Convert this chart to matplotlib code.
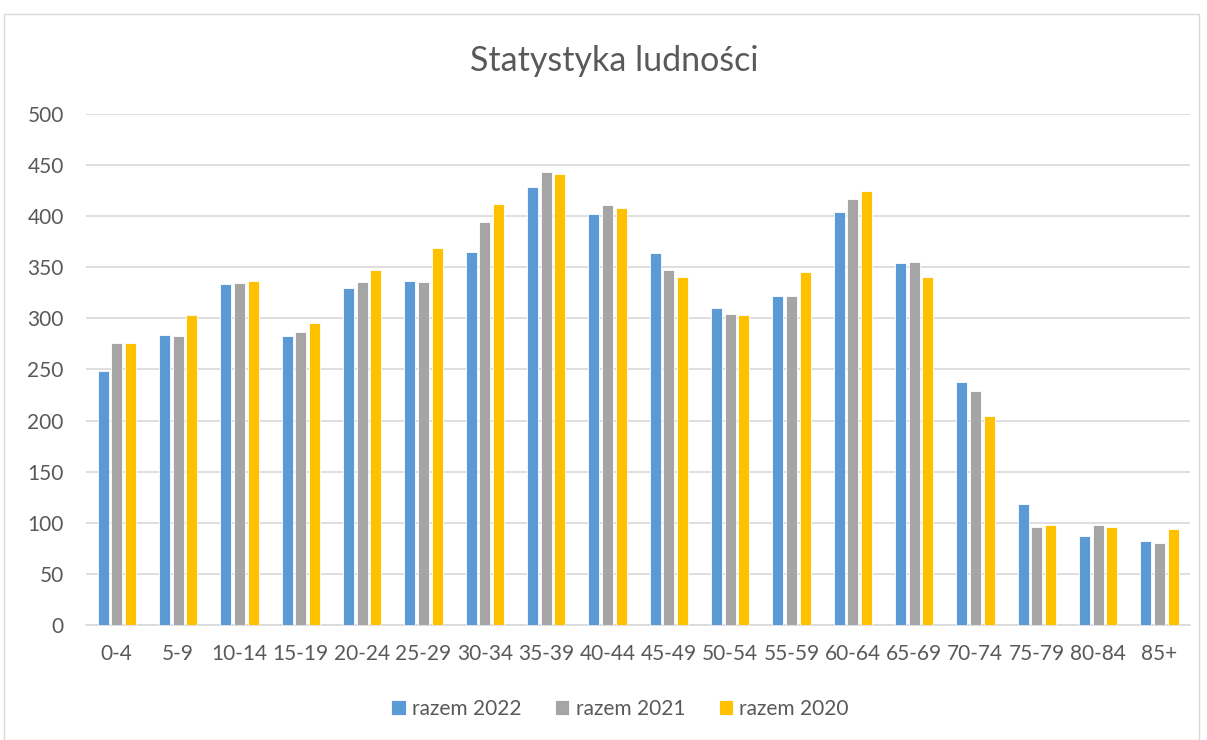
import matplotlib

matplotlib.use("Agg")
import matplotlib.pyplot as plt
import numpy as np
from matplotlib.patches import Rectangle

categories = ["0-4", "5-9", "10-14", "15-19", "20-24", "25-29", "30-34", "35-39",
              "40-44", "45-49", "50-54", "55-59", "60-64", "65-69", "70-74",
              "75-79", "80-84", "85+"]
razem_2022 = [249, 284, 334, 283, 330, 337, 365, 429, 402, 364, 310, 322, 404, 354, 238, 118, 87, 82]
razem_2021 = [276, 283, 335, 287, 336, 336, 394, 443, 411, 347, 304, 322, 417, 355, 229, 96, 98, 80]
razem_2020 = [276, 303, 337, 295, 347, 369, 412, 441, 408, 340, 303, 345, 425, 340, 204, 98, 96, 94]

series = [
    ("razem 2022", razem_2022, "#5b9bd5"),
    ("razem 2021", razem_2021, "#a5a5a5"),
    ("razem 2020", razem_2020, "#ffc000"),
]

plt.rcParams["font.family"] = ["Lato", "DejaVu Sans"]
TEXT = "#595959"

fig = plt.figure(figsize=(12.07, 7.4), dpi=100)
fig.patch.set_facecolor("white")
fig.patches.append(Rectangle((4 / 1207, 0.0), 1195 / 1207, 726 / 740,
                             transform=fig.transFigure, fill=False,
                             edgecolor="#d9d9d9", linewidth=1))

ax = fig.add_axes([0.0713, 0.1554, 0.9147, 0.6906])
x = np.arange(len(categories))
step = 0.223
width = 0.18
for i, (name, vals, color) in enumerate(series):
    ax.bar(x + (i - 1) * step, vals, width=width, color=color, label=name,
           edgecolor="white", linewidth=0.6, zorder=3)

ax.set_xlim(-0.5, len(categories) - 0.5)
ax.set_ylim(0, 500)
ax.set_yticks(range(0, 501, 50))
ax.set_xticks(x)
ax.set_xticklabels(categories)
ax.tick_params(axis="both", length=0, labelsize=15, labelcolor=TEXT)
ax.tick_params(axis="x", pad=14)
ax.tick_params(axis="y", pad=16)
ax.grid(axis="y", color="#d9d9d9", linewidth=1.2, zorder=0)
for side in ["top", "right", "left"]:
    ax.spines[side].set_visible(False)
ax.spines["bottom"].set_color("#d9d9d9")
ax.spines["bottom"].set_linewidth(1.2)

fig.text(0.509, 0.918, "Statystyka ludności", ha="center", va="center",
         fontsize=24.5, color=TEXT)

fig.legend(loc="center", bbox_to_anchor=(0.5137, 0.042), ncol=3, frameon=False,
           fontsize=15, labelcolor=TEXT, handlelength=0.7, handleheight=0.7,
           handletextpad=0.3, columnspacing=1.6)

fig.savefig("out.png", dpi=100, facecolor="white")
